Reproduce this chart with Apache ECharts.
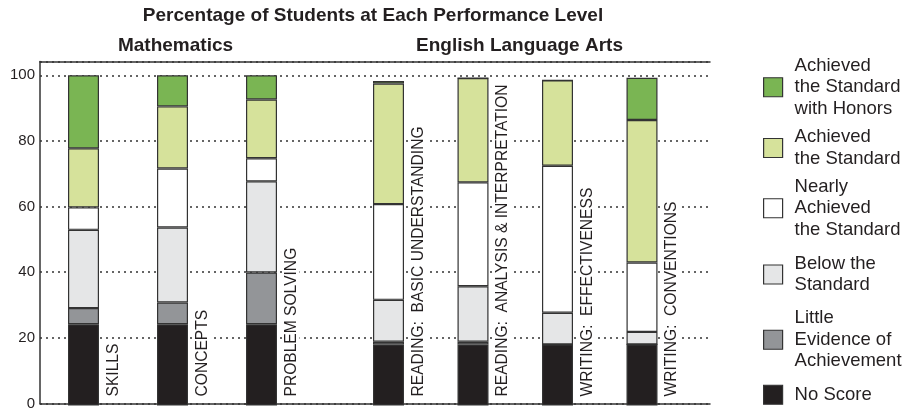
<!DOCTYPE html>
<html>
<head>
<meta charset="utf-8">
<script src="https://cdn.jsdelivr.net/npm/echarts@6/dist/echarts.min.js"></script>
<style>
  html, body { margin: 0; padding: 0; background: #fff; }
  #chart { width: 923px; height: 411px; }
</style>
</head>
<body>
<div id="chart"></div>
<script>
// the two subject groups get their own grid, so bars inside a group are evenly spaced
const mathCategories = ['SKILLS', 'CONCEPTS', 'PROBLEM SOLVING']
const elaCategories = [
  'READING:  BASIC UNDERSTANDING', 'READING:  ANALYSIS & INTERPRETATION',
  'WRITING:  EFFECTIVENESS', 'WRITING:  CONVENTIONS'
]

// percentage of students per level (3 math + 4 ELA), bottom of stack first
const noScore = [24.6, 24.6, 24.6, 18.5, 18.5, 18.5, 18.5]
const littleEvidence = [4.9, 6.6, 15.7, 0.8, 0.8, 0, 0]
const belowStandard = [23.7, 22.7, 27.6, 12.7, 16.8, 9.6, 3.8]
const nearlyAchieved = [6.8, 17.9, 7.0, 29.0, 31.5, 44.5, 21.0]
const achieved = [17.9, 18.8, 17.8, 36.5, 31.6, 25.9, 43.2]
const withHonors = [22.1, 9.4, 7.3, 0.8, 0, 0, 12.8]

const yTicks = [0, 20, 40, 60, 80, 100]
const Y_MAX = 104.2

const FONT = '"Liberation Sans", Arial, sans-serif'
const INK = '#231f20'
const EDGE = '#333'

const levels = [
  { name: 'No Score', data: noScore, color: '#231f20', legendTop: 384 },
  { name: 'Little\nEvidence of\nAchievement', data: littleEvidence, color: '#939598', legendTop: 307.5 },
  { name: 'Below the\nStandard', data: belowStandard, color: '#e5e6e7', legendTop: 253 },
  { name: 'Nearly\nAchieved\nthe Standard', data: nearlyAchieved, color: '#ffffff', legendTop: 176 },
  { name: 'Achieved\nthe Standard', data: achieved, color: '#d6e29b', legendTop: 126.5 },
  { name: 'Achieved\nthe Standard\nwith Honors', data: withHonors, color: '#7ab553', legendTop: 55 }
]

const groups = [
  { cats: mathCategories, from: 0, to: 3, axis: 1 },
  { cats: elaCategories, from: 3, to: 7, axis: 2 }
]

const chart = echarts.init(document.getElementById('chart'), null, { renderer: 'canvas' })

const series = []
groups.forEach((g, gi) => {
  levels.forEach((lv, idx) => {
    series.push({
      name: lv.name,
      type: 'bar',
      stack: 'pct' + gi,
      xAxisIndex: g.axis,
      yAxisIndex: g.axis,
      barWidth: 31,
      data: lv.data.slice(g.from, g.to),
      itemStyle: { color: lv.color, borderColor: EDGE, borderWidth: 1.2 },
      // subject names ride on the bottom segment, to the right of each bar
      label: idx === 0 ? {
        show: true,
        position: ['100%', '100%'],
        offset: [9, 14.5],
        rotate: 90,
        align: 'left',
        verticalAlign: 'middle',
        formatter: (p) => g.cats[p.dataIndex],
        fontFamily: FONT,
        fontSize: 15.6,
        color: INK,
        textBorderWidth: 0,
        backgroundColor: '#fff',
        padding: [0, 1, 0, 0]
      } : { show: false }
    })
  })
})

const hiddenCat = (cats, gridIndex) => ({
  type: 'category',
  gridIndex: gridIndex,
  data: cats,
  axisLine: { show: false },
  axisTick: { show: false },
  axisLabel: { show: false },
  splitLine: { show: false }
})
const hiddenVal = (gridIndex) => ({
  type: 'value',
  gridIndex: gridIndex,
  min: 0,
  max: Y_MAX,
  show: false
})
const frameLine = (position) => ({
  type: 'value',
  gridIndex: 0,
  position: position,
  min: 0,
  max: 1,
  axisLine: { show: true, lineStyle: { color: EDGE, width: 1.5 } },
  axisTick: { show: false },
  axisLabel: { show: false },
  splitLine: { show: false }
})

const option = {
  animation: false,
  backgroundColor: '#fff',
  title: [
    {
      text: 'Percentage of Students at Each Performance Level',
      left: 368, top: 1, textAlign: 'center',
      textStyle: { fontFamily: FONT, fontSize: 19, fontWeight: 'bold', color: INK }
    },
    {
      text: 'Mathematics',
      left: 170.5, top: 31, textAlign: 'center',
      textStyle: { fontFamily: FONT, fontSize: 19, fontWeight: 'bold', color: INK }
    },
    {
      text: 'English Language Arts',
      left: 514.5, top: 31, textAlign: 'center',
      textStyle: { fontFamily: FONT, fontSize: 19, fontWeight: 'bold', color: INK }
    }
  ],
  legend: levels.map(lv => ({
    data: [lv.name],
    left: 763,
    top: lv.legendTop,
    orient: 'vertical',
    padding: 0,
    icon: 'rect',
    itemWidth: 19,
    itemHeight: 19,
    selectedMode: false,
    itemStyle: { borderColor: EDGE, borderWidth: 1.2 },
    textStyle: {
      fontFamily: FONT,
      fontSize: 18.5,
      lineHeight: 21.5,
      color: INK,
      padding: [0, 0, 0, 7]
    }
  })),
  grid: [
    // frame, gridlines and y labels
    { left: 40, right: 213, top: 61.5, bottom: 5.5 },
    // mathematics bars
    { left: 39, width: 267, top: 61.5, bottom: 5.5 },
    // english language arts bars
    { left: 346.25, width: 338, top: 61.5, bottom: 5.5 }
  ],
  xAxis: [
    frameLine('bottom'),
    hiddenCat(mathCategories, 1),
    hiddenCat(elaCategories, 2),
    frameLine('top')
  ],
  yAxis: [
    {
      type: 'value',
      gridIndex: 0,
      min: 0,
      max: Y_MAX,
      interval: 20,
      axisLine: { show: true, lineStyle: { color: EDGE, width: 1.5 } },
      axisTick: { show: false },
      axisLabel: {
        fontFamily: FONT,
        fontSize: 15,
        color: INK,
        margin: 5,
        showMaxLabel: false,
        formatter: (v) => (yTicks.includes(v) ? String(v) : '')
      },
      splitLine: {
        show: true,
        lineStyle: { color: EDGE, width: 1.6, type: [2, 4] }
      }
    },
    hiddenVal(1),
    hiddenVal(2)
  ],
  series: series
}

chart.setOption(option)
</script>
</body>
</html>
